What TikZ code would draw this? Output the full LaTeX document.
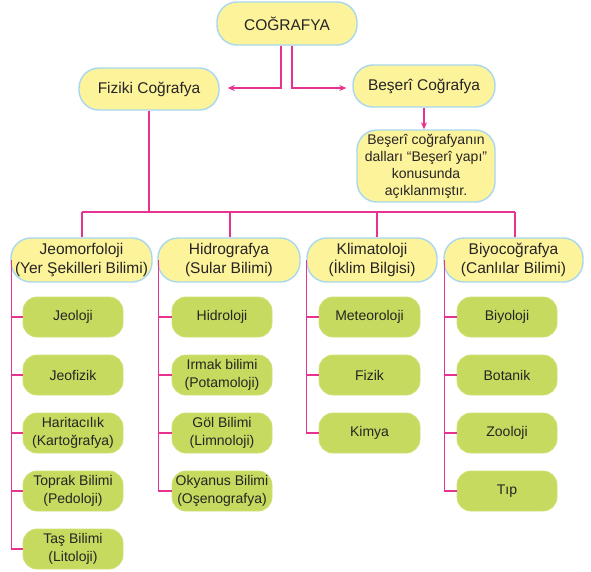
\documentclass[tikz,border=0pt]{standalone}
\usepackage{fontspec}
\setmainfont{Liberation Sans}
\usetikzlibrary{arrows.meta,calc}
\definecolor{yfill}{HTML}{FCF39B}
\definecolor{yborder}{HTML}{A8D8EE}
\definecolor{gfill}{HTML}{C5DA5E}
\definecolor{pinkc}{HTML}{E6338F}
\definecolor{txt}{HTML}{262424}
\begin{document}
\begin{tikzpicture}[x=1pt,y=-1pt,
  ybox/.style={rectangle,rounded corners=20pt,fill=yfill,draw=yborder,line width=1.4pt,
    inner sep=0pt,align=center,text=txt,font=\fontsize{15.5}{19}\selectfont},
  gbox/.style={rectangle,rounded corners=14pt,fill=gfill,draw=gfill!85!white,line width=0.8pt,
    minimum width=100pt,minimum height=40pt,inner sep=0pt,align=center,text=txt,
    font=\fontsize{14}{18}\selectfont},
  conn/.style={draw=pinkc,line width=1.2pt},
  arr/.style={conn,-{Stealth[length=7pt,width=6pt]}}]
\useasboundingbox (0,0) rectangle (591,571);
\fill[white] (0,0) rectangle (591,571);
% top level
\node[ybox,minimum width=140pt,minimum height=43pt] (cog) at (287,23.5) {CO\u{G}RAFYA};
\node[ybox,minimum width=140pt,minimum height=42pt] (fiz) at (149,89) {Fiziki Coğrafya};
\node[ybox,minimum width=142pt,minimum height=42pt] (bes) at (424,86) {Beşerî Coğrafya};
\node[ybox,minimum width=138pt,minimum height=72pt,font=\fontsize{14}{17}\selectfont] (note) at (426,166)
  {Beşerî coğrafyanın\\dalları “Beşerî yapı”\\konusunda\\açıklanmıştır.};
% level 2
\node[ybox,minimum width=141pt,minimum height=44pt] (jeo) at (81.5,260) {Jeomorfoloji\\(Yer Şekilleri Bilimi)};
\node[ybox,minimum width=142pt,minimum height=44pt] (hid) at (229,260) {Hidrografya\\(Sular Bilimi)};
\node[ybox,minimum width=130pt,minimum height=44pt] (kli) at (372,260) {Klimatoloji\\(İklim Bilgisi)};
\node[ybox,minimum width=139pt,minimum height=44pt] (biy) at (513.5,260) {Biyocoğrafya\\(Canlılar Bilimi)};
% column 1
\node[gbox] (a1) at (73,317) {Jeoloji};
\node[gbox] (a2) at (73,375) {Jeofizik};
\node[gbox] (a3) at (73,433) {Haritacılık\\(Kartoğrafya)};
\node[gbox] (a4) at (73,491) {Toprak Bilimi\\(Pedoloji)};
\node[gbox] (a5) at (73,549) {Taş Bilimi\\(Litoloji)};
% column 2
\node[gbox] (b1) at (222,317) {Hidroloji};
\node[gbox] (b2) at (222,375) {Irmak bilimi\\(Potamoloji)};
\node[gbox] (b3) at (222,433) {Göl Bilimi\\(Limnoloji)};
\node[gbox] (b4) at (222,491) {Okyanus Bilimi\\(Oşenografya)};
% column 3
\node[gbox,minimum width=101pt] (c1) at (369.5,317) {Meteoroloji};
\node[gbox,minimum width=101pt] (c2) at (369.5,375) {Fizik};
\node[gbox,minimum width=101pt] (c3) at (369.5,433) {Kimya};
% column 4
\node[gbox] (d1) at (507,317) {Biyoloji};
\node[gbox] (d2) at (507,375) {Botanik};
\node[gbox] (d3) at (507,433) {Zooloji};
\node[gbox] (d4) at (507,491) {Tıp};
% connectors top
\coordinate (lvl) at (0,88);
\draw[arr,shorten >=8pt] ($(cog.south)+(-6,0)$) |- (fiz.east |- lvl);
\draw[arr,shorten >=6pt] ($(cog.south)+(5,0)$) |- (bes.west |- lvl);
\draw[arr] (bes.south) -- (bes.south |- note.north);
% bus
\coordinate (busy) at (0,212);
\draw[conn] (fiz.south) -- (fiz.south |- busy);
\draw[conn] ($(jeo.north |- busy)+(0.5,0)$) -- ($(biy.north |- busy)+(1.5,0)$);
\draw[conn] ($(jeo.north)+(0.5,0)$) -- ($(jeo.north |- busy)+(0.5,0)$);
\draw[conn] ($(hid.north)+(1,0)$) -- ($(hid.north |- busy)+(1,0)$);
\draw[conn] ($(kli.north)+(5,0)$) -- ($(kli.north |- busy)+(5,0)$);
\draw[conn] ($(biy.north)+(1.5,0)$) -- ($(biy.north |- busy)+(1.5,0)$);
% spines
\foreach \c in {a1,a2,a3,a4,a5} \draw[conn] ($(jeo.west)+(1,0)$) |- (\c.west);
\foreach \c in {b1,b2,b3,b4} \draw[conn] ($(hid.west)+(1,0)$) |- (\c.west);
\foreach \c in {c1,c2,c3} \draw[conn] ($(kli.west)+(0.5,0)$) |- (\c.west);
\foreach \c in {d1,d2,d3,d4} \draw[conn] ($(biy.west)+(1,0)$) |- (\c.west);
\end{tikzpicture}
\end{document}
